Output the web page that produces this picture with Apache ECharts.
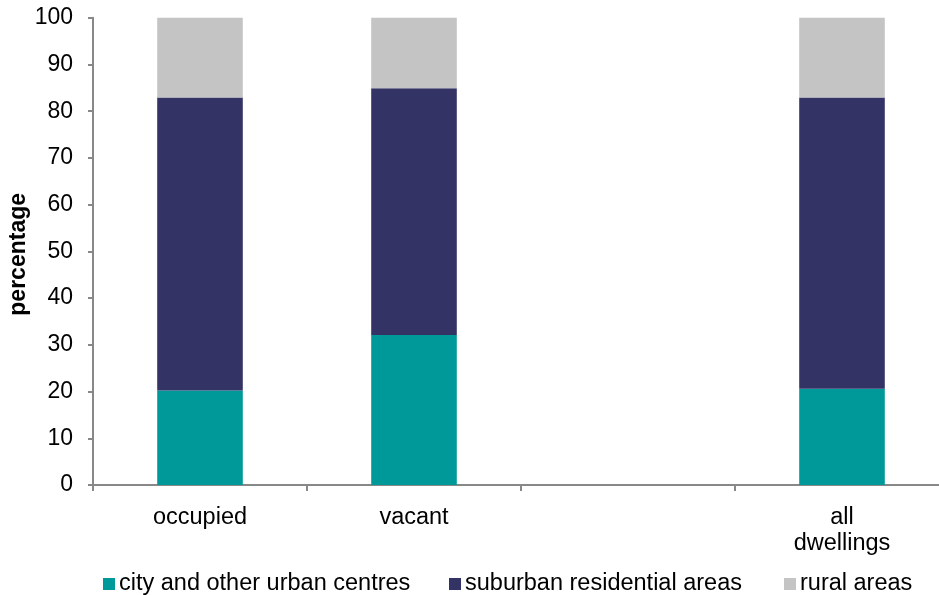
<!DOCTYPE html>
<html><head><meta charset="utf-8">
<script src="https://cdn.jsdelivr.net/npm/echarts@6/dist/echarts.min.js"></script>
<style>html,body{margin:0;padding:0;background:#fff}#c{width:939px;height:595px}</style>
</head><body><div id="c"></div>
<script>
const categories = ['occupied', 'vacant', '', 'all\ndwellings'];
const seriesNames = ['city and other urban centres', 'suburban residential areas', 'rural areas'];
const cityValues = [20.2, 32.1, null, 20.6];
const suburbanValues = [62.7, 52.8, null, 62.3];
const ruralValues = [17.1, 15.1, null, 17.1];
const yTicks = [0, 10, 20, 30, 40, 50, 60, 70, 80, 90, 100];
const colors = ['#009999', '#333366', '#c4c4c4'];
const legendLefts = [103, 449, 784];

const font = 'Liberation Sans, Arial, sans-serif';
const chart = echarts.init(document.getElementById('c'));
const mk = (name, data, i) => ({
  name, type: 'bar', stack: 'all', data, barWidth: '40%',
  itemStyle: { color: colors[i] }
});
const legends = seriesNames.map((n, i) => ({
  left: legendLefts[i], top: 572, padding: 0,
  itemWidth: 12, itemHeight: 12, icon: 'rect',
  textStyle: { color: '#000', fontSize: 23.5, fontFamily: font, padding: [0, 0, 0, -1] },
  data: [n]
}));
chart.setOption({
  animation: false,
  color: colors,
  textStyle: { fontFamily: font },
  grid: { left: 93, right: -10, top: 17.7, bottom: 110, containLabel: false, outerBoundsMode: 'none' },
  xAxis: {
    type: 'category', data: categories,
    axisLine: { lineStyle: { color: '#888888', width: 2 } },
    axisTick: { show: true, length: 6, lineStyle: { color: '#888888', width: 2 } },
    axisLabel: { color: '#000', fontSize: 23.5, margin: 20, lineHeight: 26, fontFamily: font }
  },
  yAxis: {
    type: 'value', min: yTicks[0], max: yTicks[yTicks.length - 1], interval: 10,
    name: 'percentage', nameLocation: 'middle', nameGap: 63, nameMoveOverlap: false,
    nameTextStyle: { color: '#000', fontSize: 23, fontWeight: 'bold', fontFamily: font, padding: [0, 6, 0, 0] },
    axisLine: { show: true, lineStyle: { color: '#888888', width: 2 } },
    axisTick: { show: true, length: 5, lineStyle: { color: '#888888', width: 2 } },
    splitLine: { show: false },
    axisLabel: { color: '#000', fontSize: 23, margin: 20, fontFamily: font }
  },
  legend: legends,
  series: [
    mk(seriesNames[0], cityValues, 0),
    mk(seriesNames[1], suburbanValues, 1),
    mk(seriesNames[2], ruralValues, 2)
  ]
});
</script></body></html>
